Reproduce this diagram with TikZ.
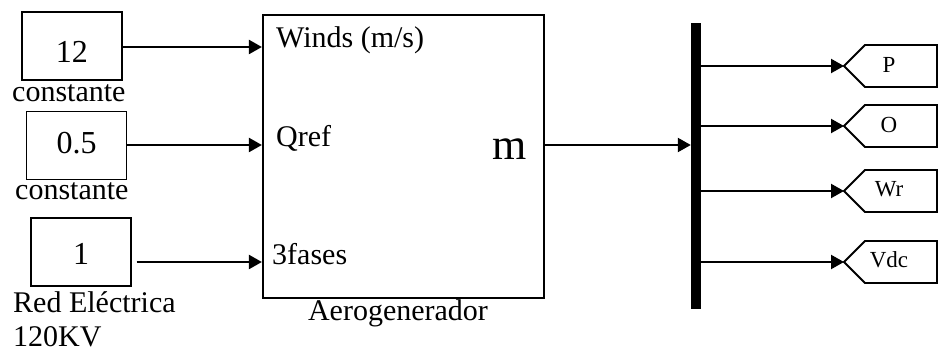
\documentclass[tikz,border=0pt]{standalone}
\usepackage{fontspec}
\setmainfont{Liberation Serif}
\usetikzlibrary{arrows.meta}
\begin{document}
\begin{tikzpicture}[x=1pt,y=-1pt,
  constbox/.style={draw,line width=1.3pt,minimum width=100pt,minimum height=68pt,inner sep=0pt},
  mainbox/.style={draw,line width=2.2pt,minimum width=281pt,minimum height=283pt,inner sep=0pt},
  bigtxt/.style={font=\fontsize{30}{36}\selectfont,inner sep=0pt},
  numtxt/.style={font=\fontsize{32}{38}\selectfont,inner sep=0pt,anchor=base},
  tagtxt/.style={font=\fontsize{23}{28}\selectfont,inner sep=0pt,anchor=base},
  tagline/.style={line width=1.8pt,line join=miter},
  arr/.style={line width=2.2pt,-{Triangle[length=13pt,width=14pt]}},
  busbar/.style={fill=black,minimum width=10pt,minimum height=286pt,inner sep=0pt}
]
\useasboundingbox (0,0) rectangle (938,352);
% constant blocks
\node[constbox] (c1) at (72,46) {};
\node[numtxt] (n1) at (72,63) {12};
\node[bigtxt,anchor=base west] (l1) at (12,102) {constante};
\node[constbox] (c2) at (76.5,145.5) {};
\node[numtxt] (n2) at (76.5,154) {0.5};
\node[bigtxt,anchor=base west] (l2) at (15,200) {constante};
\node[constbox] (c3) at (81,252) {};
\node[numtxt] (n3) at (81,265) {1};
\node[bigtxt,anchor=base west] (l3) at (13,313) {Red Eléctrica};
\node[bigtxt,anchor=base west] (l4) at (13,347) {120KV};
% main block
\node[mainbox] (m) at (403.5,156.5) {};
\node[bigtxt,anchor=base west] (p1) at (276,48) {Winds (m/s)};
\node[bigtxt,anchor=base west] (p2) at (276,147) {Qref};
\node[bigtxt,anchor=base west] (p3) at (272,265) {3fases};
\node[font=\fontsize{44}{50}\selectfont,inner sep=0pt,anchor=base] (pm) at (510,160) {m};
\node[bigtxt,anchor=base] (ma) at (398,321) {Aerogenerador};
% inputs
\coordinate (y1) at (0,47);
\coordinate (y2) at (0,145);
\coordinate (y3) at (0,262);
\draw[arr] (c1.east |- y1) -- (m.west |- y1);
\draw[arr] (c2.east |- y2) -- (m.west |- y2);
\draw[arr] ([xshift=5pt]c3.east |- y3) -- (m.west |- y3);
% bus
\node[busbar] (bus) at (696,166) {};
\draw[arr] (m.east |- y2) -- (bus.west |- y2);
% tags
\foreach \nm/\yy/\txt/\bl in {tP/66/P/73, tO/126/O/133, tW/191/Wr/197, tV/262/Vdc/268}{
  \coordinate (\nm) at (844,\yy);
  \draw[tagline] (\nm) -- ++(21,-21) -- ++(72,0) -- ++(0,42) -- ++(-72,0) -- cycle;
  \node[tagtxt] (\nm txt) at (889,\bl) {\txt};
  \draw[arr] (bus.east |- \nm) -- (\nm);
}
\end{tikzpicture}
\end{document}
